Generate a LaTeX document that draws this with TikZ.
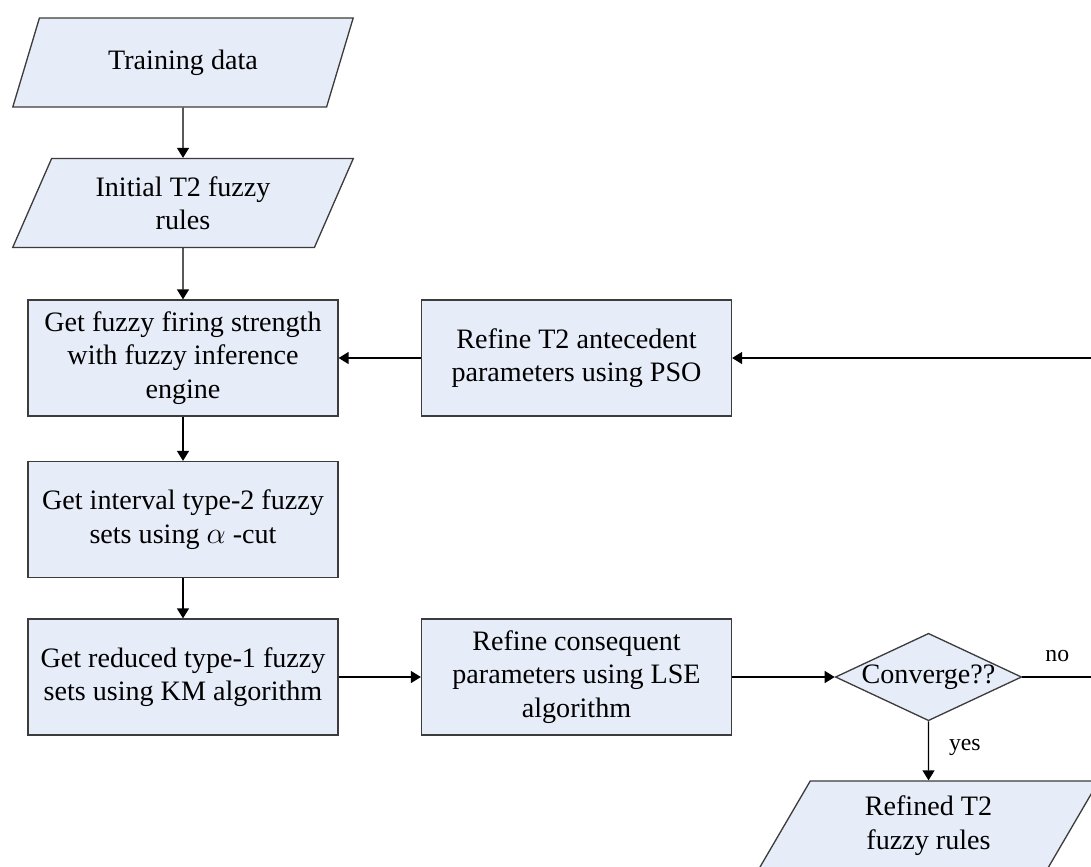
\documentclass[tikz,border=0pt]{standalone}
\usepackage{fontspec}
\setmainfont{Liberation Serif}
\usetikzlibrary{arrows.meta,shapes.geometric}
\definecolor{boxFill}{RGB}{230,236,248}
\definecolor{boxLine}{RGB}{60,60,60}

\begin{document}
\begin{tikzpicture}[x=0.02cm,y=-0.02cm,
  every node/.style={font=\fontsize{16}{19}\selectfont},
  procbox/.style={rectangle,draw=boxLine,fill=boxFill,line width=0.75pt,minimum width=6.2cm,minimum height=2.32cm,align=center,inner sep=2pt},
  iobox/.style={trapezium,trapezium left angle=66,trapezium right angle=114,trapezium stretches=true,draw=boxLine,fill=boxFill,line width=0.75pt,minimum width=6.82cm,minimum height=1.78cm,align=center,inner sep=2pt},
  testbox/.style={diamond,aspect=2.13,draw=boxLine,fill=boxFill,line width=0.75pt,minimum width=3.62cm,minimum height=1.7cm,inner sep=0pt},
  flow/.style={-{Triangle[length=2mm,width=2.4mm]},line width=0.75pt},
  answer/.style={font=\fontsize{13.5}{16}\selectfont}]
\useasboundingbox (0,0) rectangle (1091,866);

\node[iobox] (train) at (183,62.5) {Training data};
\node[iobox] (init) at (183,203) {Initial T2 fuzzy\\rules};
\node[procbox] (fire) at (183,358) {Get fuzzy firing strength\\with fuzzy inference\\engine};
\node[procbox] (pso) at (576.5,358) {Refine T2 antecedent\\parameters using PSO};
\node[procbox] (ivl) at (183,519.5) {Get interval type-2 fuzzy\\sets using $\alpha$ -cut};
\node[procbox] (red) at (183,677) {Get reduced type-1 fuzzy\\sets using KM algorithm};
\node[procbox] (lse) at (576.5,677) {Refine consequent\\parameters using LSE\\algorithm};
\node[testbox] (conv) at (928.5,677) {Converge??};
\node[iobox] (out) at (928.5,825.5) {Refined T2\\fuzzy rules};

% loop back, outside the right edge
\coordinate (loopB) at (1100,677);
\coordinate (loopT) at (1100,358);

\draw[flow] (train) -- (init);
\draw[flow] (init) -- (fire);
\draw[flow] (fire) -- (ivl);
\draw[flow] (ivl) -- (red);
\draw[flow] (red) -- (lse);
\draw[flow] (lse) -- (conv);
\draw[flow] (conv) -- node[answer,right,pos=0.45,xshift=8pt] (yes) {yes} (out);
\draw[flow] (conv) -- node[answer,above,pos=0.45,yshift=5pt] (no) {no} (loopB) -- (loopT) -- (pso);
\draw[flow] (pso) -- (fire);
\end{tikzpicture}
\end{document}
